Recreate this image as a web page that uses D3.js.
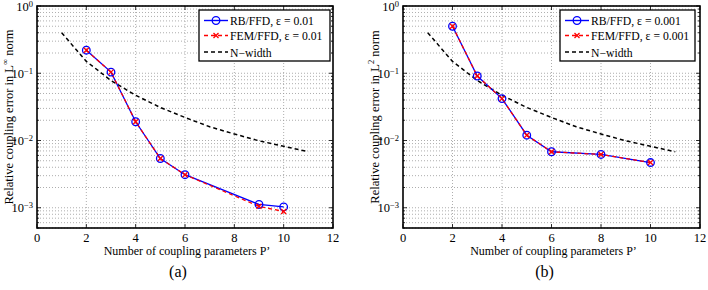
<!DOCTYPE html>
<html>
  <head>
    <meta charset="utf-8">
    <style>
      body { margin: 0; background-color: white; }
      text { font-family: "Liberation Serif", "Times New Roman", Times, "DejaVu Serif", serif; }
      .grid line { stroke: #999; stroke-width: 0.8; stroke-dasharray: 1,2; }
    </style>
  </head>
  <body>
    <svg width="708" height="290"></svg>
    <script src="https://d3js.org/d3.v7.min.js"></script>
    <script>
    // data
    var pA = [2, 3, 4, 5, 6, 9, 10];
    var rbA = [0.22, 0.104, 0.019, 0.0054, 0.0031, 0.00112, 0.00103];
    var femA = [0.22, 0.104, 0.019, 0.0054, 0.0031, 0.00105, 0.00088];
    var pB = [2, 3, 4, 5, 6, 8, 10];
    var rbB = [0.50, 0.091, 0.042, 0.012, 0.0068, 0.0062, 0.0047];
    var femB = [0.50, 0.091, 0.042, 0.012, 0.0068, 0.0062, 0.0047];
    var pN = [1, 2, 3, 4, 5, 6, 7, 8, 9, 10, 11];
    var nWidth = [0.40, 0.15, 0.078, 0.047, 0.031, 0.022, 0.016, 0.0125, 0.0099, 0.0082, 0.0068];
    var xTicks = [0, 2, 4, 6, 8, 10, 12];
    var yExps = [0, -1, -2, -3];

    var svg = d3.select("svg");

    var panels = [
      {left: 37, right: 333, top: 6, bottom: 228, p: pA, rb: rbA, fem: femA, eps: "0.01",
       norm: "\u221e", cap: "(a)", legL: 199, legR: 330},
      {left: 403, right: 700, top: 6, bottom: 228, p: pB, rb: rbB, fem: femB, eps: "0.001",
       norm: "2", cap: "(b)", legL: 560, legR: 695}
    ];

    function isDecade(d) {
      return Math.abs(Math.log10(d) - Math.round(Math.log10(d))) < 1e-6;
    }

    panels.forEach(function(P) {
      var x = d3.scaleLinear().domain([0, 12]).range([P.left, P.right]);
      var y = d3.scaleLog().domain([5e-4, 1]).range([P.bottom, P.top]);
      var g = svg.append("g");

      // minor log values
      var minors = [];
      [-4, -3, -2, -1].forEach(function(e) {
        for (var k = 1; k < 10; k++) {
          var v = k * Math.pow(10, e);
          if (v >= 5e-4 && v <= 1) minors.push(v);
        }
      });
      minors.push(1);

      var grid = g.append("g").attr("class", "grid");
      grid.selectAll(".hy").data(minors).enter().append("line")
        .attr("x1", P.left).attr("x2", P.right)
        .attr("y1", function(d) { return y(d); }).attr("y2", function(d) { return y(d); });
      grid.selectAll(".vx").data(xTicks.slice(1, -1)).enter().append("line")
        .attr("y1", P.top).attr("y2", P.bottom)
        .attr("x1", function(d) { return x(d); }).attr("x2", function(d) { return x(d); });

      // inward ticks
      var tk = g.append("g").attr("stroke", "black").attr("stroke-width", 0.8);
      tk.selectAll(".mt").data(minors).enter().append("line")
        .attr("x1", P.left).attr("x2", function(d) { return P.left + (isDecade(d) ? 4 : 2); })
        .attr("y1", function(d) { return y(d); }).attr("y2", function(d) { return y(d); });
      tk.selectAll(".mt2").data(minors).enter().append("line")
        .attr("x1", P.right).attr("x2", function(d) { return P.right - (isDecade(d) ? 4 : 2); })
        .attr("y1", function(d) { return y(d); }).attr("y2", function(d) { return y(d); });
      tk.selectAll(".xt").data(xTicks).enter().append("line")
        .attr("x1", function(d) { return x(d); }).attr("x2", function(d) { return x(d); })
        .attr("y1", P.bottom).attr("y2", P.bottom - 4);
      tk.selectAll(".xt2").data(xTicks).enter().append("line")
        .attr("x1", function(d) { return x(d); }).attr("x2", function(d) { return x(d); })
        .attr("y1", P.top).attr("y2", P.top + 4);

      // tick labels
      g.selectAll(".xl").data(xTicks).enter().append("text")
        .attr("x", function(d) { return x(d); }).attr("y", P.bottom + 14)
        .attr("text-anchor", "middle").attr("font-size", 12.5).text(function(d) { return d; });
      var yl = g.selectAll(".yl").data(yExps).enter().append("text")
        .attr("x", P.left - 4).attr("y", function(d) { return y(Math.pow(10, d)) + 4.5; })
        .attr("text-anchor", "end").attr("font-size", 12.5);
      yl.append("tspan").text("10");
      yl.append("tspan").attr("dy", -4).attr("font-size", 8.5)
        .text(function(d) { return d === 0 ? "0" : "\u2212" + (-d); });

      // axis titles
      g.append("text").attr("x", (P.left + P.right) / 2 + 2).attr("y", P.bottom + 27)
        .attr("text-anchor", "middle").attr("font-size", 12)
        .text("Number of coupling parameters P\u2019");
      var yt = g.append("text")
        .attr("transform", "translate(" + (P.left - 24) + "," + ((P.top + P.bottom) / 2) + ") rotate(-90)")
        .attr("text-anchor", "middle").attr("font-size", 12.5);
      yt.append("tspan").text("Relative coupling error in L");
      yt.append("tspan").attr("dy", -5).attr("font-size", 8.5).text(P.norm);
      yt.append("tspan").attr("dy", 5).text(" norm");

      g.append("text").attr("x", (P.left + P.right) / 2 - 7).attr("y", P.bottom + 49)
        .attr("text-anchor", "middle").attr("font-size", 16).text(P.cap);

      // curves
      var line = d3.line().x(function(d) { return x(d[0]); }).y(function(d) { return y(d[1]); });
      g.append("path").datum(d3.zip(pN, nWidth)).attr("d", line)
        .attr("fill", "none").attr("stroke", "black").attr("stroke-width", 1.5).attr("stroke-dasharray", "4,3");
      var rbPts = d3.zip(P.p, P.rb), femPts = d3.zip(P.p, P.fem);
      g.append("path").datum(rbPts).attr("d", line)
        .attr("fill", "none").attr("stroke", "#0000ff").attr("stroke-width", 1.3);
      g.append("path").datum(femPts).attr("d", line)
        .attr("fill", "none").attr("stroke", "#ff0000").attr("stroke-width", 1.3).attr("stroke-dasharray", "4,3");
      g.selectAll(".rbm").data(rbPts).enter().append("circle")
        .attr("cx", function(d) { return x(d[0]); }).attr("cy", function(d) { return y(d[1]); })
        .attr("r", 3.8).attr("fill", "none").attr("stroke", "#0000ff").attr("stroke-width", 1.3);
      var cross = "M-2.5,-2.5L2.5,2.5M-2.5,2.5L2.5,-2.5";
      g.selectAll(".fm").data(femPts).enter().append("path")
        .attr("transform", function(d) { return "translate(" + x(d[0]) + "," + y(d[1]) + ")"; })
        .attr("d", cross).attr("stroke", "#ff0000").attr("stroke-width", 1.3);

      // frame
      g.append("rect").attr("x", P.left).attr("y", P.top)
        .attr("width", P.right - P.left).attr("height", P.bottom - P.top)
        .attr("fill", "none").attr("stroke", "black").attr("stroke-width", 1.6);

      // legend
      var lg = g.append("g");
      lg.append("rect").attr("x", P.legL).attr("y", 10).attr("width", P.legR - P.legL).attr("height", 51)
        .attr("fill", "white").attr("stroke", "black").attr("stroke-width", 1.3);
      var rows = [
        {t: "RB/FFD, \u03b5 = " + P.eps, c: "#0000ff", dash: null, m: "o"},
        {t: "FEM/FFD, \u03b5 = " + P.eps, c: "#ff0000", dash: "4,3", m: "x"},
        {t: "N\u2212width", c: "black", dash: "4,3", m: null}
      ];
      var ry = [20.5, 35.5, 52];
      rows.forEach(function(r, i) {
        var x0 = P.legL + 5, x1 = P.legL + 29, cx = (x0 + x1) / 2;
        lg.append("line").attr("x1", x0).attr("x2", x1).attr("y1", ry[i]).attr("y2", ry[i])
          .attr("stroke", r.c).attr("stroke-width", 1.4).attr("stroke-dasharray", r.dash);
        if (r.m === "o") lg.append("circle").attr("cx", cx).attr("cy", ry[i]).attr("r", 3.8)
          .attr("fill", "none").attr("stroke", r.c).attr("stroke-width", 1.3);
        if (r.m === "x") lg.append("path").attr("transform", "translate(" + cx + "," + ry[i] + ")")
          .attr("d", cross).attr("stroke", r.c).attr("stroke-width", 1.3);
        lg.append("text").attr("x", P.legL + 31).attr("y", ry[i] + 4.5).attr("font-size", 11.7).text(r.t);
      });
    });
    </script>
  </body>
</html>
